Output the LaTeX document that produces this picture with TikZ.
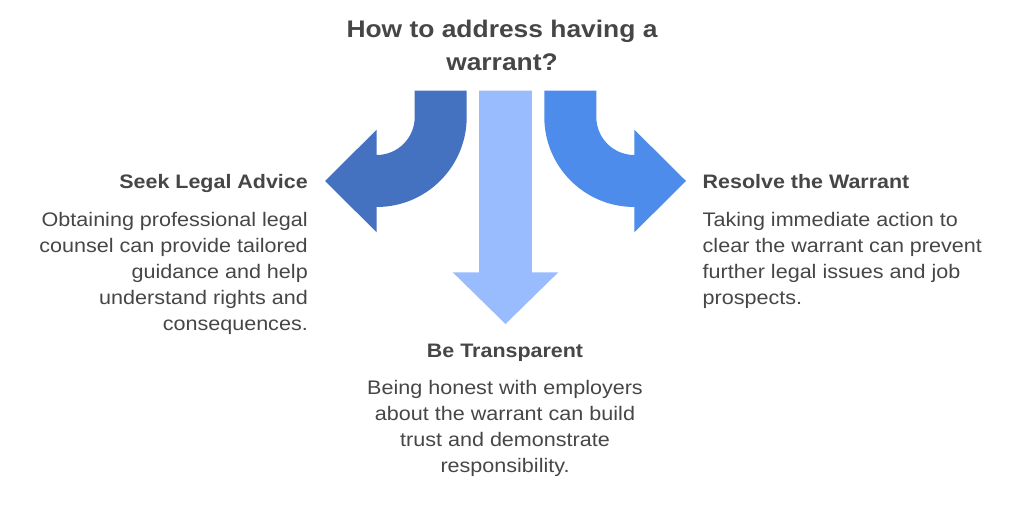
\documentclass[tikz,border=0pt]{standalone}
\usepackage{fontspec}
\setmainfont{Liberation Sans}[FakeStretch=1.1]
\definecolor{legalblue}{RGB}{68,114,192}
\definecolor{openblue}{RGB}{153,188,255}
\definecolor{clearblue}{RGB}{78,140,236}
\definecolor{inkgray}{RGB}{70,70,70}
\tikzset{
  titletext/.style={font=\bfseries\fontsize{24}{32.5}\selectfont,text=inkgray,inner sep=0,align=center},
  itemhead/.style={font=\bfseries\fontsize{19.5}{24}\selectfont,text=inkgray,inner sep=0},
  itembody/.style={font=\fontsize{19.6}{26}\selectfont,text=inkgray,inner sep=0}
}
\begin{document}
\begin{tikzpicture}[x=1pt,y=1pt]
\useasboundingbox(0,0)rectangle(1024,532);
\node[titletext,anchor=north] (title) at (502,512) {How to address having a\\warrant?};
\begin{scope}[shift={(505.5,0)}]
% middle arrow
\fill[openblue](-26.3,441.3)--(26.3,441.3)--(26.3,259.7)--(52.8,259.7)--(0,208)
  --(-52.8,259.7)--(-26.3,259.7)--cycle;
% left arrow
\fill[legalblue](-38.8,441.3)--(-38.8,415)arc[start angle=0,end angle=-90,radius=90]
  --(-128.8,299.7)--(-180.5,351)--(-128.8,402.3)--(-128.8,377)
  arc[start angle=-90,end angle=0,radius=38]--(-90.8,441.3)--cycle;
% right arrow
\begin{scope}[xscale=-1]
\fill[clearblue](-38.8,441.3)--(-38.8,415)arc[start angle=0,end angle=-90,radius=90]
  --(-128.8,299.7)--(-180.5,351)--(-128.8,402.3)--(-128.8,377)
  arc[start angle=-90,end angle=0,radius=38]--(-90.8,441.3)--cycle;
\end{scope}
\end{scope}
\node[itemhead,anchor=base east] (legal) at (308,343.3) {Seek Legal Advice};
\node[itembody,anchor=north east,align=right] (legaltext) at (308,320)
  {Obtaining professional legal\\counsel can provide tailored\\guidance and help\\understand rights and\\consequences.};
\node[itemhead,anchor=base west] (resolve) at (702.5,343.3) {Resolve the Warrant};
\node[itembody,anchor=north west,align=left] (resolvetext) at (702.5,320)
  {Taking immediate action to\\clear the warrant can prevent\\further legal issues and job\\prospects.};
\node[itemhead,anchor=base] (open) at (505,174) {Be Transparent};
\node[itembody,anchor=north,align=center] (opentext) at (505,152)
  {Being honest with employers\\about the warrant can build\\trust and demonstrate\\responsibility.};
\end{tikzpicture}
\end{document}
